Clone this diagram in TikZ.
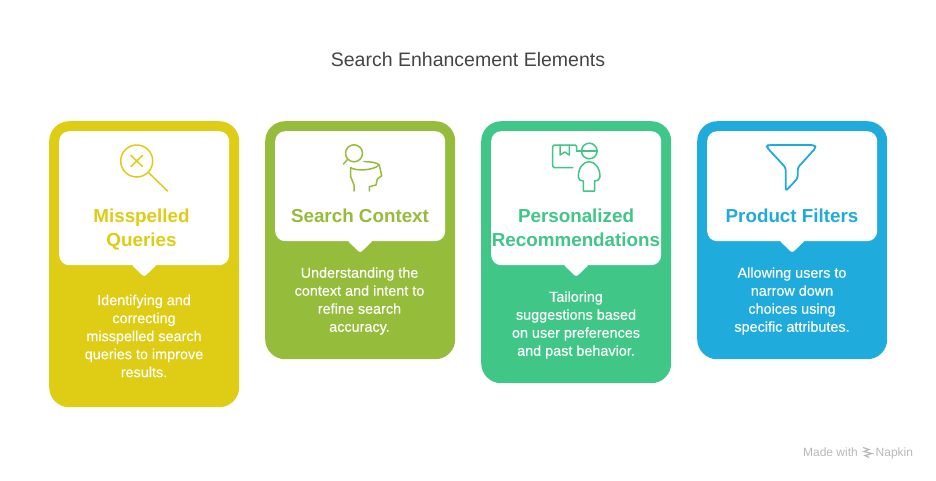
\documentclass[tikz,border=0pt]{standalone}
\usepackage{fontspec}
\setmainfont{Liberation Sans}
\newfontfamily\bodyfont[FakeBold=0.25]{Liberation Sans}
\definecolor{yellowcard}{HTML}{DFCC14}
\definecolor{greencard}{HTML}{95BC3A}
\definecolor{tealcard}{HTML}{40C687}
\definecolor{bluecard}{HTML}{1FABDB}
\definecolor{titlegray}{HTML}{444444}
\definecolor{footgray}{HTML}{B8B8B8}
\tikzset{
  card/.style={rectangle, rounded corners=20pt, minimum width=190pt, inner sep=0pt, anchor=north west},
  label/.style={rectangle, fill=white, rounded corners=10pt, minimum width=170pt, inner sep=0pt, anchor=north west},
  tag/.style={fill=white, rounded corners=2.5pt},
  head/.style={font=\fontsize{18.8}{24}\selectfont\bfseries, align=center, inner sep=0pt},
  body/.style={font=\fontsize{14.4}{18}\selectfont\bodyfont, text=white, align=center, inner sep=0pt},
  icon/.style={line width=1.5pt, line join=round, line cap=round},
  foot/.style={font=\fontsize{12}{14}\selectfont, text=footgray, inner sep=0pt},
}
\begin{document}
\begin{tikzpicture}[x=1pt, y=-1pt]
\useasboundingbox (0,0) rectangle (936,480);
\node[font=\fontsize{19.5}{24}\selectfont, text=titlegray, inner sep=0pt] (title) at (468,60) {Search Enhancement Elements};

% cards
\node[card, fill=yellowcard, minimum height=286pt] (cardA) at (49,121) {};
\node[card, fill=greencard, minimum height=238pt] (cardB) at (265,121) {};
\node[card, fill=tealcard, minimum height=262pt] (cardC) at (481,121) {};
\node[card, fill=bluecard, minimum height=238pt] (cardD) at (697,121) {};

% white labels
\node[label, minimum height=134pt] (labelA) at (59,131) {};
\node[label, minimum height=110pt] (labelB) at (275,131) {};
\node[label, minimum height=134pt] (labelC) at (491,131) {};
\node[label, minimum height=110pt] (labelD) at (707,131) {};
\fill[tag] (labelA.south) ++(-13,-1) -- ++(13,12.5) -- ++(13,-12.5) -- cycle;
\fill[tag] (labelB.south) ++(-13,-1) -- ++(13,12.5) -- ++(13,-12.5) -- cycle;
\fill[tag] (labelC.south) ++(-13,-1) -- ++(13,12.5) -- ++(13,-12.5) -- cycle;
\fill[tag] (labelD.south) ++(-13,-1) -- ++(13,12.5) -- ++(13,-12.5) -- cycle;

% headings
\node[head, text=yellowcard] (headA) at (141.5,229.5) {Misspelled\\Queries};
\node[head, text=greencard] (headB) at (360,216) {Search Context};
\node[head, text=tealcard] (headC) at (576,228) {Personalized\\Recommendations};
\node[head, text=bluecard] (headD) at (792,216) {Product Filters};

% body text
\node[body] (bodyA) at (144,336) {Identifying and\\correcting\\misspelled search\\queries to improve\\results.};
\node[body] (bodyB) at (359.5,301) {Understanding the\\context and intent to\\refine search\\accuracy.};
\node[body] (bodyC) at (576,325) {Tailoring\\suggestions based\\on user preferences\\and past behavior.};
\node[body] (bodyD) at (792,301) {Allowing users to\\narrow down\\choices using\\specific attributes.};

% magnifier icon
\draw[icon, yellowcard] (136.7,161) circle (16);
\draw[icon, yellowcard] (149,173) -- (167.5,191);
\draw[icon, yellowcard] (131,155.5) -- (142.5,166.5);
\draw[icon, yellowcard] (142.5,155.5) -- (131,166.5);

% head icon
\draw[icon, greencard] (354,153.3) circle (8.5);
\draw[icon, greencard] (347.5,159.5) -- (343.5,164);
\draw[icon, greencard] (350.7,167.7) .. controls (356,171) and (372,171) .. (379.3,165) .. controls (377,162.5) and (370,161.5) .. (364,161.7);
\draw[icon, greencard] (350.7,167.7) -- (350.7,176.7) -- (354,185) -- (354,191);
\draw[icon, greencard] (379.3,165) -- (381.7,175.7) -- (377.3,179) -- (376,185) -- (369.3,186.7) -- (369.3,191);

% parcel and courier icon
\draw[icon, tealcard, rounded corners=1.5pt] (572.7,167.7) -- (552.7,167.7) -- (552.7,145) -- (576.7,145) -- (576.7,151);
\draw[icon, tealcard] (560,145) -- (560,155) -- (564.7,152) -- (569.3,155) -- (569.3,145);
\draw[icon, tealcard] (589.3,151) circle (7.8);
\draw[icon, tealcard] (576.7,151) -- (597,151);
\draw[icon, tealcard] (583.3,191) -- (594.5,191) -- (594.5,181) .. controls (597,181) and (600,180) .. (600,177) .. controls (600,168) and (595,161.7) .. (589,161.7) .. controls (583,161.7) and (578.3,168) .. (578.3,177) .. controls (578.3,180) and (581,181) .. (583.3,181) -- cycle;

% funnel icon
\draw[icon, bluecard, line width=1.8pt, rounded corners=2.5pt] (785.7,191) -- (785.7,167.7) -- (766.5,147) -- (768,145) -- (814,145) -- (816,147.5) -- (797.7,167.7) -- (797.7,178.3) -- cycle;

% footer
\node[foot, anchor=base east] (madewith) at (858,456.5) {Made with};
\node[foot, anchor=base west] (napkin) at (875.5,456.5) {Napkin};
\draw[footgray, line width=1.2pt] (863,447.5) -- (869,449.5) -- (864,451.5) -- (872,453.5) -- (865,455.5) -- (869,457.5);
\end{tikzpicture}
\end{document}
